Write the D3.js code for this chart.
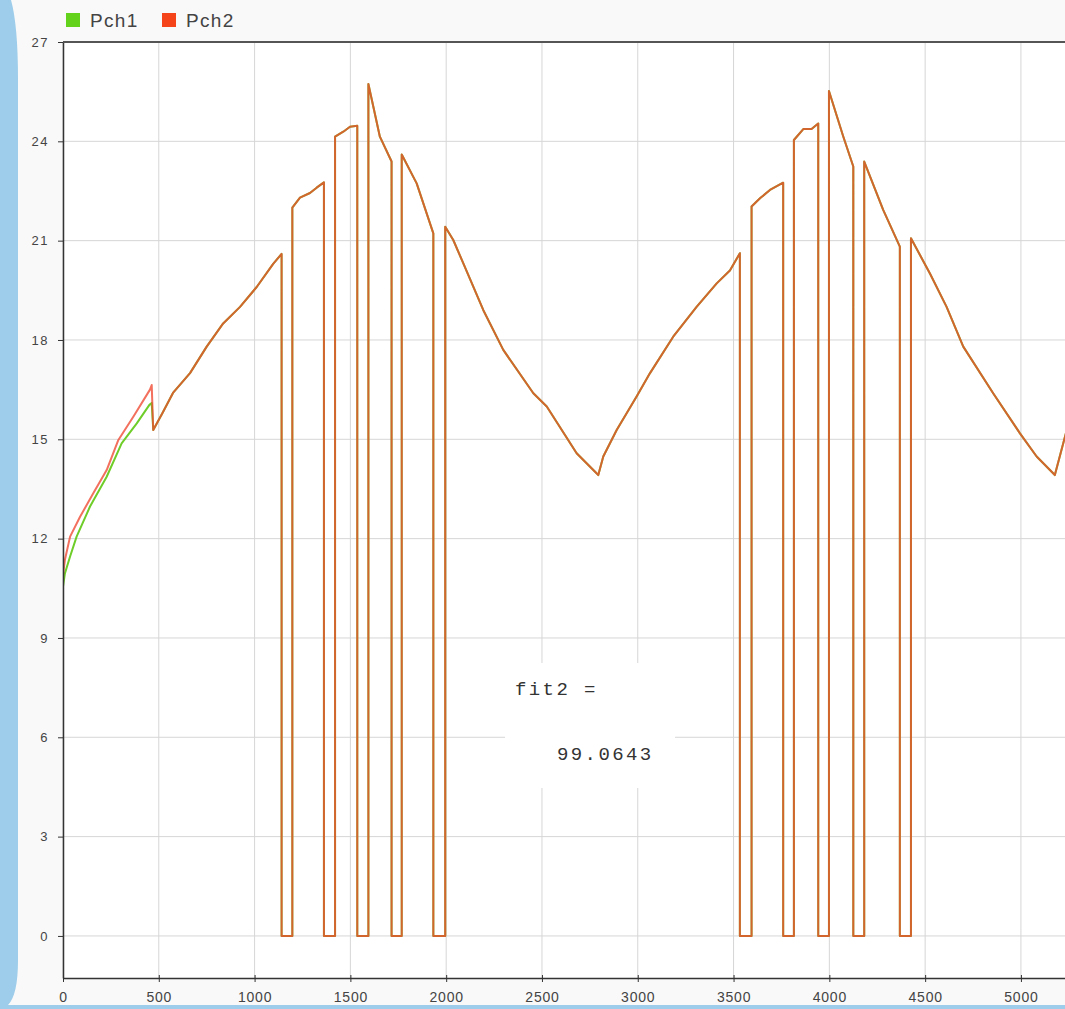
<!DOCTYPE html>
<html>
<head>
<meta charset="utf-8">
<script src="https://cdn.jsdelivr.net/npm/d3@7"></script>
<style>
  html, body { margin: 0; padding: 0; background: #f9f9f9; }
  svg { display: block; }
</style>
</head>
<body>
<svg id="chart" width="1065" height="1009"></svg>
<script>
// ---- data ----
const seriesNames = ["Pch1", "Pch2"];
const xTicks = [0, 500, 1000, 1500, 2000, 2500, 3000, 3500, 4000, 4500, 5000];
const yTicks = [0, 3, 6, 9, 12, 15, 18, 21, 24, 27];

// start of Pch1 (differs from Pch2 until ~470)
const pch1HeadX = [0, 10, 37, 71, 141, 228, 306, 385, 451, 463];
const pch1HeadY = [10.55, 10.95, 11.46, 12.06, 12.97, 13.87, 14.88, 15.48, 16.04, 16.1];
// start of Pch2
const pch2HeadX = [0, 0, 10, 37, 89, 158, 228, 289, 367, 454, 463];
const pch2HeadY = [18.9, 10.9, 11.36, 12.06, 12.66, 13.37, 14.07, 14.98, 15.68, 16.5, 16.64];
// common part of both series
const sharedX = [471, 520, 574, 663, 750, 836, 924, 1011, 1097, 1141, 1141, 1197, 1197, 1237, 1289, 1324, 1362, 1362, 1420, 1420, 1463, 1498, 1536, 1536, 1594, 1594, 1654, 1715, 1715, 1768, 1768, 1846, 1933, 1933, 1995, 1995, 2037, 2089, 2194, 2298, 2455, 2525, 2681, 2794, 2820, 2890, 2994, 3064, 3185, 3307, 3412, 3481, 3533, 3533, 3594, 3594, 3638, 3690, 3759, 3759, 3815, 3815, 3864, 3907, 3942, 3942, 3998, 3998, 4073, 4125, 4125, 4182, 4182, 4281, 4368, 4368, 4426, 4426, 4525, 4612, 4699, 4855, 4995, 5082, 5177, 5240];
const sharedY = [15.28, 15.8, 16.4, 17.0, 17.8, 18.5, 19.0, 19.6, 20.3, 20.6, 0, 0, 22.0, 22.3, 22.44, 22.6, 22.76, 0, 0, 24.14, 24.29, 24.44, 24.47, 0, 0, 25.73, 24.14, 23.39, 0, 0, 23.6, 22.73, 21.22, 0, 0, 21.42, 21.02, 20.32, 18.9, 17.7, 16.39, 15.99, 14.58, 13.92, 14.48, 15.28, 16.29, 17.0, 18.1, 19.0, 19.71, 20.1, 20.62, 0, 0, 22.03, 22.28, 22.53, 22.75, 0, 0, 24.04, 24.37, 24.37, 24.54, 0, 0, 25.52, 24.14, 23.24, 0, 0, 23.39, 21.93, 20.82, 0, 0, 21.07, 20.01, 19.0, 17.8, 16.39, 15.18, 14.48, 13.92, 15.3];

const fitLabel = "fit2 =";
const fitValue = "99.0643";

// ---- build series ----
const pch1 = pch1HeadX.map((v, i) => [v, pch1HeadY[i]]).concat(sharedX.map((v, i) => [v, sharedY[i]]));
const pch2 = pch2HeadX.map((v, i) => [v, pch2HeadY[i]]).concat(sharedX.map((v, i) => [v, sharedY[i]]));

const svg = d3.select("#chart");
const W = 1065, H = 1009;
const mLeft = 63, mRight = 1065, mTop = 42, mBottom = 978;

const xScale = d3.scaleLinear().domain([0, 5230]).range([mLeft, mRight]);
const yScale = d3.scaleLinear().domain([-1.27, 27]).range([mBottom, mTop]);

// page background
svg.append("rect").attr("width", W).attr("height", H).attr("fill", "#f9f9f9");
// plot area
svg.append("rect").attr("x", mLeft).attr("y", mTop).attr("width", mRight - mLeft).attr("height", mBottom - mTop).attr("fill", "#ffffff");

// grid
svg.append("g").selectAll("line").data(xTicks).join("line")
  .attr("x1", d => xScale(d)).attr("x2", d => xScale(d)).attr("y1", mTop).attr("y2", mBottom)
  .attr("stroke", "#d6d6d6").attr("stroke-width", 1);
svg.append("g").selectAll("line").data(yTicks).join("line")
  .attr("x1", mLeft).attr("x2", mRight).attr("y1", d => yScale(d)).attr("y2", d => yScale(d))
  .attr("stroke", "#d6d6d6").attr("stroke-width", 1);

// clip
svg.append("clipPath").attr("id", "clip").append("rect")
  .attr("x", mLeft).attr("y", mTop).attr("width", mRight - mLeft).attr("height", mBottom - mTop);

const line = d3.line().x(d => xScale(d[0])).y(d => yScale(d[1]));
const g = svg.append("g").attr("clip-path", "url(#clip)");
g.append("path").datum(pch1).attr("d", line).attr("fill", "none")
  .attr("stroke", "rgb(110,205,40)").attr("stroke-width", 2).attr("stroke-linejoin", "round");
g.append("path").datum(pch2).attr("d", line).attr("fill", "none")
  .attr("stroke", "rgb(238,72,48)").attr("stroke-opacity", 0.78).attr("stroke-width", 2).attr("stroke-linejoin", "round");

// axes
const xAxis = d3.axisBottom(xScale).tickValues(xTicks).tickFormat(d3.format("d"))
  .tickSize(4).tickSizeOuter(0).tickPadding(10);
const gx = svg.append("g").attr("transform", `translate(0,${mBottom})`).call(xAxis);
gx.select(".domain").attr("stroke", "#333").attr("stroke-width", 1.5);
gx.selectAll(".tick line").attr("stroke", "#333").attr("y1", -3);
gx.selectAll("text").attr("font-family", "Liberation Sans, Arial, sans-serif").attr("font-size", 14)
  .attr("letter-spacing", "0.8px").attr("fill", "#444");

const yAxis = d3.axisLeft(yScale).tickValues(yTicks).tickSize(5).tickSizeOuter(0).tickPadding(9);
const gy = svg.append("g").attr("transform", `translate(${mLeft},0)`).call(yAxis);
gy.select(".domain").attr("stroke", "#333").attr("stroke-width", 1.5);
gy.selectAll(".tick line").attr("stroke", "#333");
gy.selectAll("text").attr("font-family", "Liberation Sans, Arial, sans-serif").attr("font-size", 13)
  .attr("letter-spacing", "1.5px").attr("fill", "#444");

// top border
svg.append("line").attr("x1", mLeft).attr("x2", mRight).attr("y1", mTop).attr("y2", mTop)
  .attr("stroke", "#555").attr("stroke-width", 2);

// legend
const legColors = ["#63d21b", "#f5441a"];
const legX = [66, 162];
const leg = svg.append("g").selectAll("g").data(seriesNames).join("g")
  .attr("transform", (d, i) => `translate(${legX[i]},13)`);
leg.append("rect").attr("width", 14).attr("height", 14).attr("fill", (d, i) => legColors[i]);
leg.append("text").attr("x", 24).attr("y", 13.5).text(d => d)
  .attr("font-family", "Liberation Sans, Arial, sans-serif").attr("font-size", 19)
  .attr("letter-spacing", "1.3px").attr("fill", "#444");

// annotation box
svg.append("rect").attr("x", 505).attr("y", 663).attr("width", 170).attr("height", 125).attr("fill", "#ffffff");
svg.append("text").attr("x", 515).attr("y", 695).text(fitLabel)
  .attr("font-family", "Liberation Mono, Courier New, monospace").attr("font-size", 19)
  .attr("letter-spacing", "2.4px").attr("fill", "#333").style("white-space", "pre");
svg.append("text").attr("x", 557).attr("y", 760).text(fitValue)
  .attr("font-family", "Liberation Mono, Courier New, monospace").attr("font-size", 19)
  .attr("letter-spacing", "2.4px").attr("fill", "#333");

// left blue strip & bottom edge
svg.append("path")
  .attr("d", "M0,0 L11,0 Q18,25 18,80 L18,960 Q18,995 8,1005 L1065,1005 L1065,1009 L0,1009 Z")
  .attr("fill", "#9dcdea");
</script>
</body>
</html>
